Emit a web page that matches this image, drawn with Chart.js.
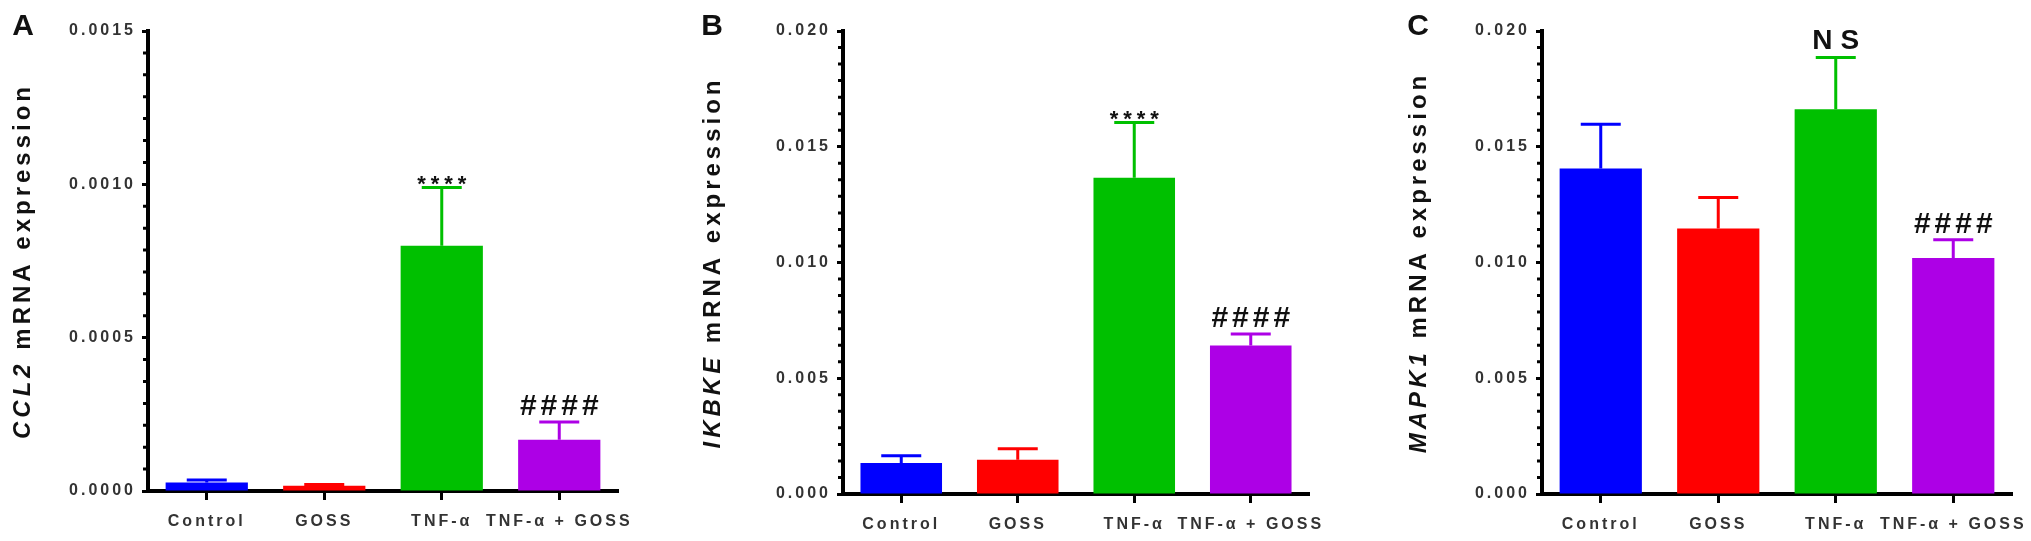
<!DOCTYPE html>
<html>
<head>
<meta charset="utf-8">
<title>CCL2 / IKBKE / MAPK1 mRNA expression</title>
<script src="https://cdn.jsdelivr.net/npm/chart.js@4.4.1/dist/chart.umd.min.js"></script>
<style>
    html, body { margin: 0; padding: 0; background: #fff; }
    #wrap { position: relative; width: 2031px; height: 541px; overflow: hidden; }
    #wrap canvas { position: absolute; top: 0; }
</style>
</head>
<body>
<div id="wrap">
    <canvas id="chart-a" width="720" height="541" style="left:0px"></canvas>
    <canvas id="chart-b" width="720" height="541" style="left:680px"></canvas>
    <canvas id="chart-c" width="720" height="541" style="left:1360px"></canvas>
</div>
<script>
// Groups
const categories = ['Control', 'GOSS', 'TNF-α', 'TNF-α + GOSS'];

// A - CCL2
const ccl2Mean = [0.000028, 0.000017, 0.00080, 0.000167];
const ccl2Err = [0.000008, 0.000004, 0.00019, 0.000058];
const ccl2Marks = ['', '', '****', '####'];
const ccl2Ticks = [0, 0.0005, 0.0010, 0.0015];

// B - IKBKE
const ikbkeMean = [0.00134, 0.00148, 0.01366, 0.00642];
const ikbkeErr = [0.00031, 0.00048, 0.00239, 0.00049];
const ikbkeMarks = ['', '', '****', '####'];
const ikbkeTicks = [0, 0.005, 0.010, 0.015, 0.020];

// C - MAPK1
const mapk1Mean = [0.01406, 0.01147, 0.01662, 0.01019];
const mapk1Err = [0.00191, 0.00134, 0.00223, 0.00079];
const mapk1Marks = ['', '', 'NS', '####'];
const mapk1Ticks = [0, 0.005, 0.010, 0.015, 0.020];

(function() {
    const FONT = '"Liberation Sans", Arial, sans-serif';
    const barColors = ['#0000ff', '#ff0000', '#00c000', '#ad00e6'];
    const labelColor = '#333333';
    const canvasW = 720;
    const canvasH = 541;

    // how each annotation is drawn relative to its error cap
    const markStyles = {
        '****': { size: 22, spacing: 5, dy: 4 },
        '####': { size: 30, spacing: 4, dy: -7 },
        'NS': { size: 28, spacing: 8, dy: -9 }
    };

    const spacingPlugin = {
        id: 'spacing',
        beforeUpdate(chart) { chart.ctx.letterSpacing = '3px'; },
        beforeDraw(chart) { chart.ctx.letterSpacing = '3px'; }
    };

    function decorPlugin(p) {
        return {
            id: 'decor',
            afterDatasetsDraw(chart) {
                const ctx = chart.ctx;
                const y = chart.scales.y;
                const meta = chart.getDatasetMeta(0);
                ctx.save();
                meta.data.forEach((bar, i) => {
                    const top = y.getPixelForValue(p.means[i]);
                    const cap = y.getPixelForValue(p.means[i] + p.errs[i]);
                    ctx.strokeStyle = barColors[i];
                    ctx.lineWidth = 3;
                    ctx.beginPath();
                    ctx.moveTo(bar.x, top);
                    ctx.lineTo(bar.x, cap);
                    ctx.moveTo(bar.x - 20, cap);
                    ctx.lineTo(bar.x + 20, cap);
                    ctx.stroke();

                    const mark = p.marks[i];
                    if (mark) {
                        const st = markStyles[mark];
                        ctx.font = 'bold ' + st.size + 'px ' + FONT;
                        ctx.letterSpacing = st.spacing + 'px';
                        ctx.fillStyle = '#111';
                        ctx.textAlign = 'center';
                        ctx.textBaseline = 'alphabetic';
                        ctx.fillText(mark, bar.x + st.spacing / 2, cap + st.dy);
                    }
                });
                ctx.restore();
            },
            afterDraw(chart) {
                const ctx = chart.ctx;
                const y = chart.scales.y;
                const area = chart.chartArea;
                ctx.save();

                // minor ticks, 7 steps between labelled ticks
                ctx.strokeStyle = '#000';
                ctx.lineWidth = 3;
                ctx.beginPath();
                for (let k = 0; k < p.ticks.length - 1; k++) {
                    const step = (p.ticks[k + 1] - p.ticks[k]) / 7;
                    for (let j = 1; j < 7; j++) {
                        const py = y.getPixelForValue(p.ticks[k] + j * step);
                        ctx.moveTo(area.left - 5, py);
                        ctx.lineTo(area.left, py);
                    }
                }
                ctx.stroke();

                // y axis title: italic gene name + plain rest
                ctx.fillStyle = '#111';
                ctx.letterSpacing = '4px';
                ctx.textBaseline = 'middle';
                ctx.textAlign = 'left';
                const fItal = 'italic bold 24px ' + FONT;
                const fBold = 'bold 24px ' + FONT;
                ctx.font = fItal;
                const w1 = ctx.measureText(p.gene).width;
                ctx.font = fBold;
                const rest = ' mRNA expression';
                const w2 = ctx.measureText(rest).width;
                const cy = (area.top + area.bottom) / 2;
                ctx.translate(p.titleX, cy);
                ctx.rotate(-Math.PI / 2);
                const x0 = -(w1 + w2) / 2;
                ctx.font = fItal;
                ctx.fillText(p.gene, x0, 0);
                ctx.font = fBold;
                ctx.fillText(rest, x0 + w1, 0);
                ctx.setTransform(1, 0, 0, 1, 0, 0);

                // panel letter
                ctx.letterSpacing = '0px';
                ctx.font = 'bold 30px ' + FONT;
                ctx.textAlign = 'center';
                ctx.fillText(p.letter, p.letterX, 27);
                ctx.restore();
            }
        };
    }

    function makeChart(id, p) {
        const tickFont = { family: FONT, size: 16, weight: 'bold' };
        return new Chart(document.getElementById(id), {
            type: 'bar',
            data: {
                labels: categories,
                datasets: [{
                    data: p.means,
                    backgroundColor: barColors,
                    borderWidth: 0,
                    barPercentage: 0.7,
                    categoryPercentage: 1
                }]
            },
            options: {
                responsive: false,
                animation: false,
                devicePixelRatio: 1,
                layout: {
                    padding: { top: 31, right: canvasW - p.axisX - p.axisLen, bottom: 0, left: 0 }
                },
                plugins: {
                    legend: { display: false },
                    tooltip: { enabled: false }
                },
                scales: {
                    x: {
                        grid: { offset: false, drawOnChartArea: false, tickLength: 9, tickWidth: 3, tickColor: '#000' },
                        border: { color: '#000', width: 4 },
                        ticks: { color: labelColor, font: tickFont, padding: 12, maxRotation: 0, autoSkip: false },
                        afterFit: scale => { scale.height = canvasH - p.zeroY; }
                    },
                    y: {
                        min: 0,
                        max: p.ticks[p.ticks.length - 1],
                        afterBuildTicks: scale => { scale.ticks = p.ticks.map(v => ({ value: v })); },
                        grid: { drawOnChartArea: false, tickLength: 6, tickWidth: 3, tickColor: '#000' },
                        border: { color: '#000', width: 4 },
                        ticks: {
                            color: labelColor,
                            font: tickFont,
                            padding: 6,
                            autoSkip: false,
                            callback: v => Number(v).toFixed(p.decimals)
                        },
                        afterFit: scale => { scale.width = p.axisX; }
                    }
                }
            },
            plugins: [spacingPlugin, decorPlugin(p)]
        });
    }

    makeChart('chart-a', {
        means: ccl2Mean, errs: ccl2Err, marks: ccl2Marks, ticks: ccl2Ticks, decimals: 4,
        gene: 'CCL2', letter: 'A', letterX: 23, titleX: 23,
        axisX: 148, axisLen: 470, zeroY: 491
    });
    makeChart('chart-b', {
        means: ikbkeMean, errs: ikbkeErr, marks: ikbkeMarks, ticks: ikbkeTicks, decimals: 3,
        gene: 'IKBKE', letter: 'B', letterX: 32, titleX: 33,
        axisX: 163, axisLen: 466, zeroY: 494
    });
    makeChart('chart-c', {
        means: mapk1Mean, errs: mapk1Err, marks: mapk1Marks, ticks: mapk1Ticks, decimals: 3,
        gene: 'MAPK1', letter: 'C', letterX: 58, titleX: 59,
        axisX: 182, axisLen: 470, zeroY: 494
    });
})();
</script>
</body>
</html>
